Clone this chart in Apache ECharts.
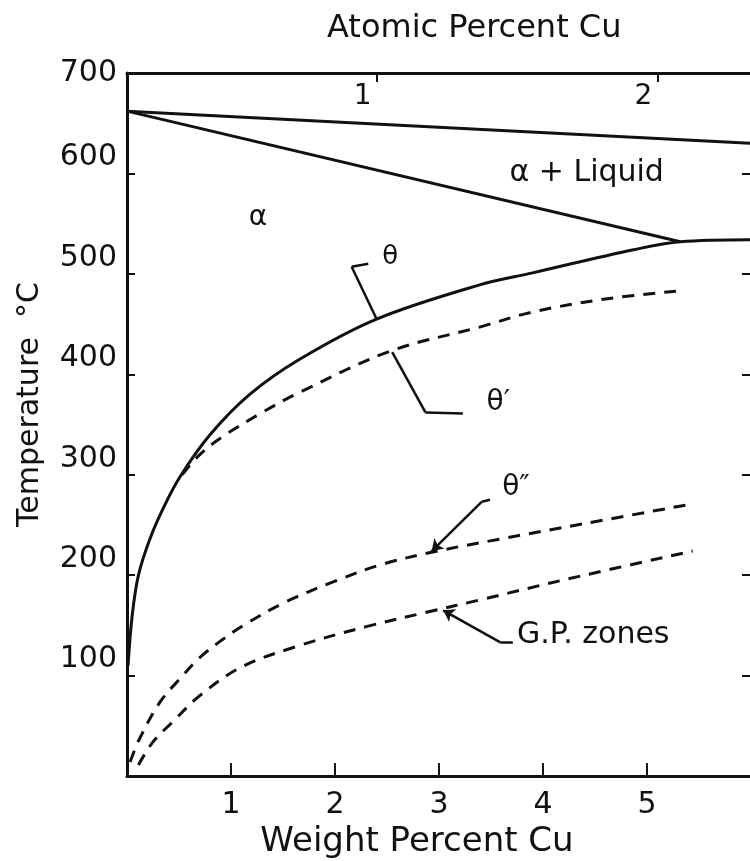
<!DOCTYPE html>
<html>
<head>
<meta charset="utf-8">
<script src="https://cdn.jsdelivr.net/npm/echarts@6/dist/echarts.min.js"></script>
<style>
  html, body { margin: 0; padding: 0; background: #fff; }
  #chart { width: 750px; height: 861px; }
</style>
</head>
<body>
<div id="chart"></div>
<script>
// phase boundaries, [weight % Cu, temperature C]
var liquidus = [[0, 662], [6, 630]];
var solidus = [[0, 662], [5.32, 532]];
var thetaSolvus = [[0.01, 110], [0.05, 160], [0.11, 200], [0.22, 236], [0.35, 267], [0.51, 298],
    [0.8, 340], [1.18, 380], [1.66, 415], [2.4, 455], [3.39, 489], [3.9, 501], [4.87, 524],
    [5.32, 532], [6, 534]];
var thetaPrime = [[0.53, 300], [0.7, 320], [0.92, 338], [1.3, 362], [1.66, 382], [2.53, 423],
    [3.39, 447], [3.9, 462], [4.6, 475], [5.3, 483]];
var thetaDoublePrime = [[0.03, 14], [0.12, 37], [0.32, 74], [0.51, 97], [0.7, 118], [0.92, 136],
    [1.12, 150], [1.5, 172], [2.0, 194], [2.46, 211], [2.94, 223], [3.59, 236], [4.38, 251], [5.44, 271]];
var gpZones = [[0.11, 11], [0.25, 34], [0.44, 54], [0.7, 80], [1.09, 108], [1.63, 129], [2.31, 149],
    [2.88, 163], [3.42, 176], [4.23, 196], [5.44, 224]];

// axis ticks
var weightTicks = [1, 2, 3, 4, 5];
var tempTicks = [100, 200, 300, 400, 500, 600, 700];
var atomicPercent = [1, 2];
var atomicAtWeight = [2.40, 5.10];

// leader lines to the curves
var leaders = [
    { pts: [[2.32, 510], [2.16, 507], [2.40, 455]], arrow: false },
    { pts: [[3.23, 361], [2.87, 362], [2.55, 422]], arrow: false },
    { pts: [[3.49, 275], [3.41, 273], [2.93, 224]], arrow: true },
    { pts: [[3.71, 133], [3.59, 133], [3.04, 165]], arrow: true }
];

// region and curve names
var labels = [
    { text: 'α', at: [1.26, 556], size: 28, align: 'center' },
    { text: 'α + Liquid', at: [4.42, 600], size: 30, align: 'center' },
    { text: 'θ', at: [2.53, 517], size: 26, align: 'center' },
    { text: 'θ′', at: [3.57, 372], size: 28, align: 'center' },
    { text: 'θ″', at: [3.74, 287], size: 28, align: 'center' },
    { text: 'G.P. zones', at: [3.75, 140], size: 30, align: 'left' }
];

var FONT = 'DejaVu Sans';
var INK = '#111';

function curve(name, data, dashed) {
    return {
        name: name,
        type: 'line',
        data: data,
        symbol: 'none',
        smooth: 0.35,
        lineStyle: { color: INK, width: 3, type: dashed ? [12, 9] : 'solid' },
        z: 3
    };
}

function leaderLines() {
    var segs = [];
    leaders.forEach(function (l) {
        for (var i = 0; i < l.pts.length - 1; i++) {
            var last = l.arrow && i === l.pts.length - 2;
            segs.push([
                { coord: l.pts[i], symbol: 'none' },
                { coord: l.pts[i + 1], symbol: last ? 'arrow' : 'none' }
            ]);
        }
    });
    return segs;
}

var chart = echarts.init(document.getElementById('chart'));
chart.setOption({
    animation: false,
    backgroundColor: '#fff',
    textStyle: { fontFamily: FONT, color: INK },
    title: {
        text: 'Atomic Percent Cu',
        left: 322,
        top: 8,
        textStyle: { fontFamily: FONT, fontSize: 32, fontWeight: 'normal', color: INK }
    },
    grid: { left: 127, top: 73, width: 624, height: 703, outerBoundsMode: 'none' },
    xAxis: [{
        type: 'value',
        position: 'bottom',
        min: 0,
        max: 6,
        interval: 1,
        name: 'Weight Percent Cu',
        nameLocation: 'middle',
        nameGap: 48,
        nameTextStyle: { fontFamily: FONT, fontSize: 34, color: INK, padding: [0, 44, 0, 0] },
        splitLine: { show: false },
        axisLine: { onZero: false, lineStyle: { color: INK, width: 3 } },
        axisTick: { inside: true, length: 13, lineStyle: { color: INK, width: 2 } },
        axisLabel: {
            fontFamily: FONT, fontSize: 30, color: INK, margin: 14,
            formatter: function (v) { return weightTicks.indexOf(v) >= 0 ? String(v) : ''; }
        }
    }, {
        type: 'value',
        position: 'top',
        min: 0,
        max: 6,
        splitLine: { show: false },
        axisLine: { onZero: false, lineStyle: { color: INK, width: 3 } },
        axisTick: { inside: true, length: 9, customValues: atomicAtWeight, lineStyle: { color: INK, width: 2 } },
        axisLabel: {
            inside: true,
            customValues: atomicAtWeight,
            fontFamily: FONT, fontSize: 28, color: INK, margin: 10,
            padding: [0, 28, 0, 0],
            formatter: function (v) {
                var best = 0;
                atomicAtWeight.forEach(function (w, i) {
                    if (Math.abs(w - v) < Math.abs(atomicAtWeight[best] - v)) best = i;
                });
                return String(atomicPercent[best]);
            }
        }
    }],
    yAxis: [{
        type: 'value',
        position: 'left',
        min: 0,
        max: 700,
        interval: 100,
        name: 'Temperature  °C',
        nameLocation: 'middle',
        nameGap: 82,
        nameTextStyle: { fontFamily: FONT, fontSize: 30, color: INK, padding: [0, 0, 0, 40] },
        splitLine: { show: false },
        axisLine: { onZero: false, lineStyle: { color: INK, width: 3 } },
        axisTick: { inside: true, length: 8, lineStyle: { color: INK, width: 2 } },
        axisLabel: {
            margin: 10,
            formatter: function (v) {
                if (tempTicks.indexOf(v) < 0) return '';
                return v === 700 ? '{top|' + v + '}' : '{raise|' + v + '}';
            },
            rich: {
                top: { fontFamily: FONT, fontSize: 30, color: INK },
                raise: { fontFamily: FONT, fontSize: 30, color: INK, padding: [0, 0, 32, 0] }
            }
        }
    }, {
        type: 'value',
        position: 'right',
        min: 0,
        max: 700,
        interval: 100,
        splitLine: { show: false },
        axisLine: { show: true, onZero: false, lineStyle: { color: INK, width: 3 } },
        axisTick: { inside: true, length: 9, lineStyle: { color: INK, width: 2 } },
        axisLabel: { show: false }
    }],
    series: [
        curve('Liquidus', liquidus, false),
        curve('Solidus', solidus, false),
        curve('θ', thetaSolvus, false),
        curve('θ′', thetaPrime, true),
        curve('θ″', thetaDoublePrime, true),
        curve('G.P. zones', gpZones, true),
        {
            name: 'leaders',
            type: 'line',
            data: [],
            markLine: {
                silent: true,
                symbolSize: 11,
                label: { show: false },
                lineStyle: { color: INK, width: 2.5, type: 'solid' },
                data: leaderLines()
            }
        },
        {
            name: 'labels',
            type: 'scatter',
            symbolSize: 1,
            itemStyle: { color: '#fff', opacity: 1 },
            silent: true,
            z: 5,
            data: labels.map(function (l) {
                return {
                    name: l.text,
                    value: l.at,
                    label: {
                        show: true,
                        position: 'inside',
                        formatter: '{b}',
                        align: l.align,
                        fontFamily: FONT,
                        fontSize: l.size,
                        color: INK,
                        opacity: 1,
                        textBorderWidth: 0
                    }
                };
            })
        }
    ]
});
</script>
</body>
</html>
